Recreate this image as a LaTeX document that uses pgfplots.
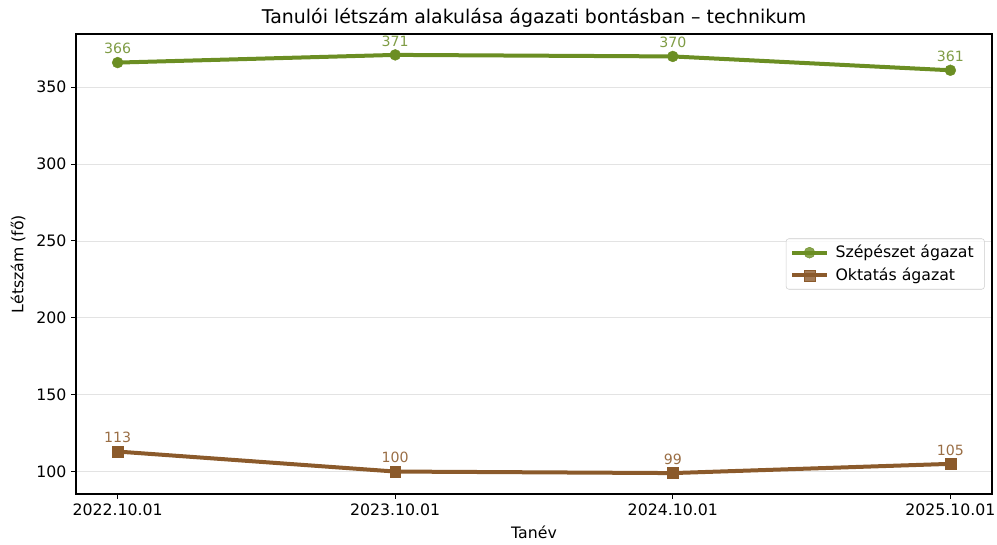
\documentclass[border=0pt]{standalone}
\usepackage{pgfplots}
\pgfplotsset{compat=1.18}
\usepackage{fontspec}
\setmainfont{DejaVu Sans}

\definecolor{szep}{HTML}{6B8E23}
\definecolor{szeplbl}{HTML}{7F9C45}
\definecolor{okt}{HTML}{8B5A2B}
\definecolor{oktlbl}{HTML}{9A6E45}
\definecolor{gridc}{HTML}{E3E3E3}

\begin{document}
\begin{tikzpicture}
% page = 997x545 px at 0.75pt/px, axis south west at origin
\useasboundingbox (-57pt,-38.25pt) rectangle ++(747.75pt,408.75pt);
\begin{axis}[
    at={(0,0)},anchor=south west,
    scale only axis,
    width=687pt,height=345pt,
    xmin=-0.15,xmax=3.15,
    ymin=85.4,ymax=384.6,
    xtick={0,1,2,3},
    xticklabels={2022.10.01,2023.10.01,2024.10.01,2025.10.01},
    ytick={100,150,200,250,300,350},
    tick align=outside,
    major tick length=3.6pt,
    tick style={black,line width=0.8pt},
    axis line style={line width=0.8pt},
    xtick pos=bottom,ytick pos=left,
    ymajorgrids,
    major grid style={gridc,line width=0.6pt},
    tick label style={font=\fontsize{11.8}{14}\selectfont,/pgf/number format/assume math mode=true},
    title={Tanulói létszám alakulása ágazati bontásban – technikum},
    title style={font=\fontsize{14.2}{16}\selectfont,at={(0.5,1)},anchor=base,yshift=1.6pt},
    xlabel={Tanév},
    xlabel style={font=\fontsize{11.8}{14}\selectfont,at={(axis description cs:0.5,0)},anchor=base,yshift=-33.5pt},
    ylabel={Létszám (fő)},
    ylabel style={font=\fontsize{11.8}{14}\selectfont,at={(axis description cs:0,0.5)},anchor=center,yshift=43.5pt},
    legend style={at={(0.992,0.5)},anchor=east,draw=black!20,rounded corners=2pt,
        fill=white,fill opacity=0.8,text opacity=1,
        font=\fontsize{11.8}{14}\selectfont,row sep=2pt,inner xsep=3pt,inner ysep=3pt,
        nodes={inner xsep=5pt}},
    legend cell align=left,
    legend image code/.code={
        \draw[mark repeat=2,mark phase=2,#1] plot coordinates {(0pt,0pt)(13pt,0pt)(26pt,0pt)};
    },
    nodes near coords,
    every node near coord/.append style={font=\fontsize{10.6}{12}\selectfont,anchor=center,yshift=10.5pt,
        /pgf/number format/assume math mode=true},
]
\addplot[szep,line width=3pt,mark=*,mark size=4.1pt,mark options={solid,line width=0.3pt,fill=szep,draw=szep},
    every node near coord/.append style={text=szeplbl}]
    coordinates {(0,366) (1,371) (2,370) (3,361)};
\addlegendentry{Szépészet ágazat}
\addplot[okt,line width=3pt,mark=square*,mark size=4.1pt,mark options={solid,line width=0.3pt,fill=okt,draw=okt},
    every node near coord/.append style={text=oktlbl}]
    coordinates {(0,113) (1,100) (2,99) (3,105)};
\addlegendentry{Oktatás ágazat}
\end{axis}
\end{tikzpicture}
\end{document}
